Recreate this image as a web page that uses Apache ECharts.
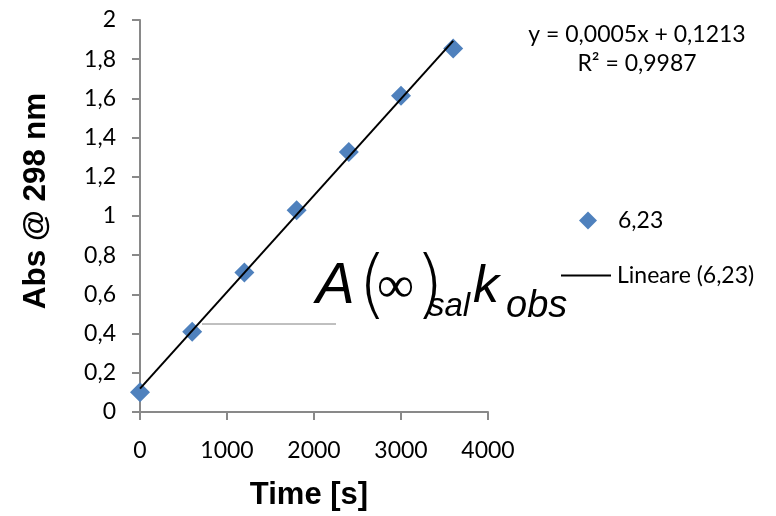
<!DOCTYPE html>
<html>
<head>
<meta charset="utf-8">
<script src="https://cdn.jsdelivr.net/npm/echarts@6/dist/echarts.min.js"></script>
<style>html,body{margin:0;padding:0;background:#fff}#c{width:776px;height:516px}</style>
</head>
<body>
<div id="c"></div>
<script>
// Data
const timeValues = [0, 600, 1200, 1800, 2400, 3000, 3600];
const absValues = [0.101, 0.409, 0.712, 1.029, 1.327, 1.613, 1.854];
const seriesName = '6,23';
const trendName = 'Lineare (6,23)';
const equationText = 'y = 0,0005x + 0,1213';
const r2Text = 'R² = 0,9987';
const xTicks = [0, 1000, 2000, 3000, 4000];
const yTicks = [0, 0.2, 0.4, 0.6, 0.8, 1, 1.2, 1.4, 1.6, 1.8, 2];

// least squares trend line
const n = timeValues.length;
const mx = timeValues.reduce((a, b) => a + b, 0) / n;
const my = absValues.reduce((a, b) => a + b, 0) / n;
let sxy = 0, sxx = 0;
for (let i = 0; i < n; i++) { sxy += (timeValues[i] - mx) * (absValues[i] - my); sxx += (timeValues[i] - mx) ** 2; }
const slope = sxy / sxx, intercept = my - slope * mx;
const xMinData = Math.min(...timeValues), xMaxData = Math.max(...timeValues);
const trendData = [[xMinData, intercept + slope * xMinData], [xMaxData, intercept + slope * xMaxData]];

const tickFont = 'Lato, "Open Sans", sans-serif';
const arial = '"Liberation Sans", Arial, sans-serif';
const thin = '"DejaVu Sans"';
const fmtY = v => String(Math.round(v * 10) / 10).replace('.', ',');
const fmtX = v => String(v);

const chart = echarts.init(document.getElementById('c'), null, { renderer: 'canvas' });
chart.setOption({
  animation: false,
  backgroundColor: '#fff',
  grid: { left: 140, right: 288, top: 20, bottom: 100, containLabel: false },
  xAxis: {
    type: 'value', min: xTicks[0], max: xTicks[xTicks.length - 1], interval: 1000,
    name: 'Time [s]', nameLocation: 'middle', nameGap: 68,
    nameTextStyle: { fontFamily: arial, fontWeight: 'bold', fontSize: 31, color: '#000', padding: [0, 10, 0, 0] },
    axisLine: { show: true, lineStyle: { color: '#898989', width: 2 } },
    axisTick: { show: true, length: 8, lineStyle: { color: '#898989', width: 2 } },
    axisLabel: { fontFamily: tickFont, fontSize: 23, color: '#000', margin: 27, formatter: fmtX },
    splitLine: { show: false }
  },
  yAxis: {
    type: 'value', min: yTicks[0], max: yTicks[yTicks.length - 1], interval: 0.2,
    name: 'Abs @ 298 nm', nameLocation: 'middle', nameGap: 88,
    nameTextStyle: { fontFamily: arial, fontWeight: 'bold', fontSize: 31.5, color: '#000', padding: [0, 0, 0, 30] },
    axisLine: { show: true, lineStyle: { color: '#898989', width: 2 } },
    axisTick: { show: true, length: 8, lineStyle: { color: '#898989', width: 2 } },
    axisLabel: { fontFamily: tickFont, fontSize: 23, color: '#000', margin: 24, formatter: fmtY },
    splitLine: { show: false }
  },
  legend: [
    {
      data: [{ name: seriesName, icon: 'diamond' }],
      left: 574, top: 204, itemWidth: 18, itemHeight: 18,
      itemStyle: { color: '#4F81BD', opacity: 1 },
      textStyle: { fontFamily: tickFont, fontSize: 23, color: '#000', padding: [0, 0, 0, 16] }
    },
    {
      data: [{ name: trendName, icon: 'path://M0,0H100V4H0Z' }],
      left: 556, top: 259, itemWidth: 52, itemHeight: 2,
      itemStyle: { color: '#000' },
      textStyle: { fontFamily: tickFont, fontSize: 23, color: '#000' }
    }
  ],
  series: [
    {
      name: seriesName, type: 'scatter', symbol: 'diamond', symbolSize: 20,
      itemStyle: { color: '#4F81BD', opacity: 1 }, z: 2,
      data: timeValues.map((t, i) => [t, absValues[i]])
    },
    {
      name: trendName, type: 'line', symbol: 'none', z: 3,
      lineStyle: { color: '#000', width: 2 }, itemStyle: { color: '#000' },
      data: trendData
    }
  ],
  graphic: [
    { type: 'text', x: 637, y: 49, style: { text: equationText + '\n' + r2Text, fontFamily: tickFont, fontSize: 23, lineHeight: 29, fill: '#000', align: 'center', verticalAlign: 'middle' } },
    { type: 'line', shape: { x1: 202, y1: 324, x2: 336, y2: 324 }, style: { stroke: '#808080', lineWidth: 1 } },
    { type: 'text', x: 316, y: 287, style: { text: 'A', fontFamily: arial, fontStyle: 'italic', fontSize: 58, fill: '#000', verticalAlign: 'middle' } },
    { type: 'text', x: 358, y: 290, style: { text: '(', fontFamily: thin, fontWeight: 200, fontSize: 74, fill: '#000', verticalAlign: 'middle' } },
    { type: 'text', x: 377, y: 288, style: { text: '∞', fontFamily: thin, fontWeight: 200, fontSize: 52, fill: '#000', verticalAlign: 'middle' } },
    { type: 'text', x: 415, y: 290, style: { text: ')', fontFamily: thin, fontWeight: 200, fontSize: 74, fill: '#000', verticalAlign: 'middle' } },
    { type: 'text', x: 428, y: 307, style: { text: 'sal', fontFamily: arial, fontStyle: 'italic', fontSize: 33, fill: '#000', verticalAlign: 'middle' } },
    { type: 'text', x: 473, y: 288, style: { text: 'k', fontFamily: arial, fontStyle: 'italic', fontSize: 52, fill: '#000', verticalAlign: 'middle' } },
    { type: 'text', x: 506, y: 306, style: { text: 'obs', fontFamily: arial, fontStyle: 'italic', fontSize: 38, fill: '#000', verticalAlign: 'middle' } }
  ]
});
</script>
</body>
</html>
